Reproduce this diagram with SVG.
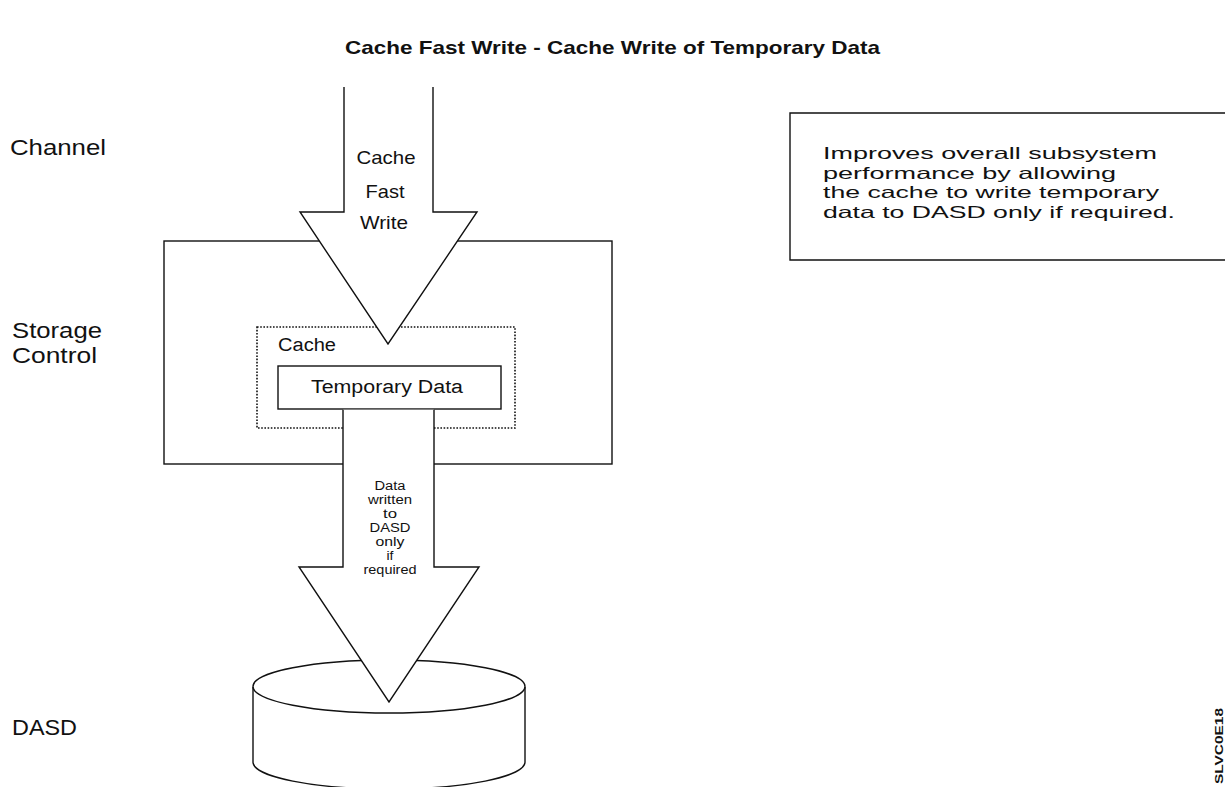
<svg xmlns="http://www.w3.org/2000/svg" width="1225" height="787" viewBox="0 0 1225 787">
<style>
  .t { font-family: "Liberation Sans", Arial, Helvetica, sans-serif; fill: #111; }
  .ln { fill: none; stroke: #111; stroke-width: 1.4; }
  .box { fill: #fff; stroke: #111; stroke-width: 1.4; }
  .dot { fill: none; stroke: #111; stroke-width: 1.6; stroke-dasharray: 1.6 1.6; }
  .af { fill: #fff; stroke: none; }
  .lbl { font-size: 22px; }
  .al { font-size: 19px; text-anchor: middle; }
  .sl { font-size: 12px; text-anchor: middle; }
  .nt { font-size: 16.5px; }
</style>
<rect width="1225" height="787" fill="#fff"/>

<g id="title">
  <text class="t" x="345" y="54" font-size="19" font-weight="bold" textLength="535" lengthAdjust="spacingAndGlyphs">Cache Fast Write - Cache Write of Temporary Data</text>
</g>

<g id="layer-labels">
  <text class="t lbl" x="10" y="155" textLength="96" lengthAdjust="spacingAndGlyphs">Channel</text>
  <text class="t lbl" x="12" y="338" textLength="90" lengthAdjust="spacingAndGlyphs">Storage</text>
  <text class="t lbl" x="12" y="363" textLength="85" lengthAdjust="spacingAndGlyphs">Control</text>
  <text class="t lbl" x="12" y="735" textLength="65" lengthAdjust="spacingAndGlyphs">DASD</text>
</g>

<g id="storage-control">
  <rect class="box" x="164" y="241" width="448" height="223"/>
</g>

<g id="cache">
  <rect class="dot" x="257" y="327" width="258" height="101"/>
  <text class="t" x="278" y="351" font-size="18" textLength="58" lengthAdjust="spacingAndGlyphs">Cache</text>
</g>

<g id="temporary-data">
  <rect class="box" x="278" y="366" width="223" height="43"/>
  <text class="t" x="311" y="393" font-size="18" textLength="152" lengthAdjust="spacingAndGlyphs">Temporary Data</text>
</g>

<g id="dasd">
  <path class="box" d="M253,687 L253,762 A136,27 0 0 0 525,762 L525,687"/>
  <ellipse class="box" cx="389" cy="686.5" rx="136" ry="26.5"/>
</g>

<g id="connectors">
  <g id="arrow-cache-fast-write">
    <polygon class="af" points="344,87 433,87 433,212 477,212 388,344 300,212 344,212"/>
    <path class="ln" d="M344,87 L344,212 L300,212 L388,344 L477,212 L433,212 L433,87"/>
    <text class="t al" x="386" y="164" textLength="59" lengthAdjust="spacingAndGlyphs">Cache</text>
    <text class="t al" x="385" y="198" textLength="39" lengthAdjust="spacingAndGlyphs">Fast</text>
    <text class="t al" x="384" y="229" textLength="48" lengthAdjust="spacingAndGlyphs">Write</text>
  </g>
  <g id="arrow-write-to-dasd">
    <polygon class="af" points="343,409.7 434,409.7 434,567 479,567 389,702 299,567 343,567"/>
    <path class="ln" d="M343,409.7 L343,567 L299,567 L389,702 L479,567 L434,567 L434,409.7"/>
    <text class="t sl" x="390" y="490" textLength="31" lengthAdjust="spacingAndGlyphs">Data</text>
    <text class="t sl" x="390" y="504" textLength="44" lengthAdjust="spacingAndGlyphs">written</text>
    <text class="t sl" x="390" y="518" textLength="14" lengthAdjust="spacingAndGlyphs">to</text>
    <text class="t sl" x="390" y="532" textLength="41" lengthAdjust="spacingAndGlyphs">DASD</text>
    <text class="t sl" x="390" y="546" textLength="29" lengthAdjust="spacingAndGlyphs">only</text>
    <text class="t sl" x="390" y="560" textLength="7" lengthAdjust="spacingAndGlyphs">if</text>
    <text class="t sl" x="390" y="574" textLength="53" lengthAdjust="spacingAndGlyphs">required</text>
  </g>
</g>

<g id="note">
  <path class="ln" d="M1230,113 L790,113 L790,260 L1230,260"/>
  <text class="t nt" x="823" y="159" textLength="334" lengthAdjust="spacingAndGlyphs">Improves overall subsystem</text>
  <text class="t nt" x="823" y="178.5" textLength="293" lengthAdjust="spacingAndGlyphs">performance by allowing</text>
  <text class="t nt" x="823" y="198" textLength="336" lengthAdjust="spacingAndGlyphs">the cache to write temporary</text>
  <text class="t nt" x="823" y="217.5" textLength="352" lengthAdjust="spacingAndGlyphs">data to DASD only if required.</text>
</g>

<g id="figure-id">
  <text class="t" transform="translate(1223,708) rotate(-90)" x="0" y="0" font-size="11" font-weight="bold" text-anchor="end" textLength="76" lengthAdjust="spacingAndGlyphs">SLVC0E18</text>
</g>
</svg>
